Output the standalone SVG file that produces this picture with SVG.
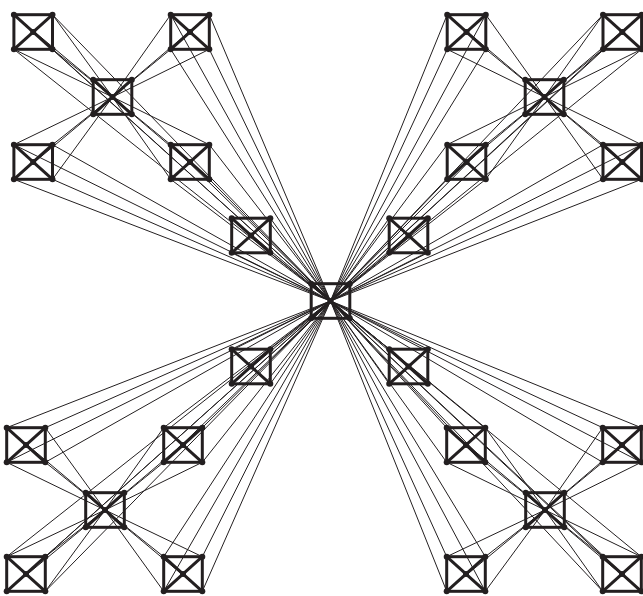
<svg xmlns="http://www.w3.org/2000/svg" xmlns:xlink="http://www.w3.org/1999/xlink" width="643" height="596" viewBox="0 0 643 596">
<style>
.e{stroke:#231f20;stroke-width:1;fill:none}
.u{stroke:#231f20;stroke-width:3;fill:none}
.d{fill:#231f20}
</style>
<defs>
<g id="unit">
<rect class="u" x="-19.3" y="-17.3" width="38.6" height="34.6"/>
<line class="u" x1="-19.3" y1="-17.3" x2="19.3" y2="17.3"/>
<line class="u" x1="19.3" y1="-17.3" x2="-19.3" y2="17.3"/>
<circle class="d" cx="-19.3" cy="-17.3" r="3"/>
<circle class="d" cx="19.3" cy="-17.3" r="3"/>
<circle class="d" cx="-19.3" cy="17.3" r="3"/>
<circle class="d" cx="19.3" cy="17.3" r="3"/>
<circle class="d" cx="0" cy="0" r="3"/>
</g>
</defs>
<rect width="643" height="596" fill="#ffffff"/>
<g id="connectors">
<!-- TL cluster hub -->
<line class="e" x1="112.5" y1="97" x2="13.9" y2="14.7"/><line class="e" x1="112.5" y1="97" x2="52.5" y2="14.7"/><line class="e" x1="112.5" y1="97" x2="13.9" y2="49.3"/><line class="e" x1="112.5" y1="97" x2="52.5" y2="49.3"/>
<line class="e" x1="112.5" y1="97" x2="170.7" y2="14.7"/><line class="e" x1="112.5" y1="97" x2="209.3" y2="14.7"/><line class="e" x1="112.5" y1="97" x2="170.7" y2="49.3"/><line class="e" x1="112.5" y1="97" x2="209.3" y2="49.3"/>
<line class="e" x1="112.5" y1="97" x2="13.9" y2="144.7"/><line class="e" x1="112.5" y1="97" x2="52.5" y2="144.7"/><line class="e" x1="112.5" y1="97" x2="13.9" y2="179.3"/><line class="e" x1="112.5" y1="97" x2="52.5" y2="179.3"/>
<line class="e" x1="112.5" y1="97" x2="170.7" y2="144.7"/><line class="e" x1="112.5" y1="97" x2="209.3" y2="144.7"/><line class="e" x1="112.5" y1="97" x2="170.7" y2="179.3"/><line class="e" x1="112.5" y1="97" x2="209.3" y2="179.3"/>
<!-- TR cluster hub -->
<line class="e" x1="544.5" y1="97" x2="447.2" y2="14.7"/><line class="e" x1="544.5" y1="97" x2="485.8" y2="14.7"/><line class="e" x1="544.5" y1="97" x2="447.2" y2="49.3"/><line class="e" x1="544.5" y1="97" x2="485.8" y2="49.3"/>
<line class="e" x1="544.5" y1="97" x2="603" y2="14.7"/><line class="e" x1="544.5" y1="97" x2="641.6" y2="14.7"/><line class="e" x1="544.5" y1="97" x2="603" y2="49.3"/><line class="e" x1="544.5" y1="97" x2="641.6" y2="49.3"/>
<line class="e" x1="544.5" y1="97" x2="447.2" y2="144.7"/><line class="e" x1="544.5" y1="97" x2="485.8" y2="144.7"/><line class="e" x1="544.5" y1="97" x2="447.2" y2="179.3"/><line class="e" x1="544.5" y1="97" x2="485.8" y2="179.3"/>
<line class="e" x1="544.5" y1="97" x2="603" y2="144.7"/><line class="e" x1="544.5" y1="97" x2="641.6" y2="144.7"/><line class="e" x1="544.5" y1="97" x2="603" y2="179.3"/><line class="e" x1="544.5" y1="97" x2="641.6" y2="179.3"/>
<!-- BL cluster hub -->
<line class="e" x1="105" y1="510" x2="6.7" y2="427.7"/><line class="e" x1="105" y1="510" x2="45.3" y2="427.7"/><line class="e" x1="105" y1="510" x2="6.7" y2="462.3"/><line class="e" x1="105" y1="510" x2="45.3" y2="462.3"/>
<line class="e" x1="105" y1="510" x2="163.7" y2="427.7"/><line class="e" x1="105" y1="510" x2="202.3" y2="427.7"/><line class="e" x1="105" y1="510" x2="163.7" y2="462.3"/><line class="e" x1="105" y1="510" x2="202.3" y2="462.3"/>
<line class="e" x1="105" y1="510" x2="6.7" y2="556.7"/><line class="e" x1="105" y1="510" x2="45.3" y2="556.7"/><line class="e" x1="105" y1="510" x2="6.7" y2="591.3"/><line class="e" x1="105" y1="510" x2="45.3" y2="591.3"/>
<line class="e" x1="105" y1="510" x2="163.7" y2="556.7"/><line class="e" x1="105" y1="510" x2="202.3" y2="556.7"/><line class="e" x1="105" y1="510" x2="163.7" y2="591.3"/><line class="e" x1="105" y1="510" x2="202.3" y2="591.3"/>
<!-- BR cluster hub -->
<line class="e" x1="545" y1="510" x2="446.7" y2="427.7"/><line class="e" x1="545" y1="510" x2="485.3" y2="427.7"/><line class="e" x1="545" y1="510" x2="446.7" y2="462.3"/><line class="e" x1="545" y1="510" x2="485.3" y2="462.3"/>
<line class="e" x1="545" y1="510" x2="602.7" y2="427.7"/><line class="e" x1="545" y1="510" x2="641.3" y2="427.7"/><line class="e" x1="545" y1="510" x2="602.7" y2="462.3"/><line class="e" x1="545" y1="510" x2="641.3" y2="462.3"/>
<line class="e" x1="545" y1="510" x2="446.7" y2="556.7"/><line class="e" x1="545" y1="510" x2="485.3" y2="556.7"/><line class="e" x1="545" y1="510" x2="446.7" y2="591.3"/><line class="e" x1="545" y1="510" x2="485.3" y2="591.3"/>
<line class="e" x1="545" y1="510" x2="602.7" y2="556.7"/><line class="e" x1="545" y1="510" x2="641.3" y2="556.7"/><line class="e" x1="545" y1="510" x2="602.7" y2="591.3"/><line class="e" x1="545" y1="510" x2="641.3" y2="591.3"/>
<!-- center cluster hub -->
<line class="e" x1="330.5" y1="301" x2="231.7" y2="218.2"/><line class="e" x1="330.5" y1="301" x2="270.3" y2="218.2"/><line class="e" x1="330.5" y1="301" x2="231.7" y2="252.8"/><line class="e" x1="330.5" y1="301" x2="270.3" y2="252.8"/>
<line class="e" x1="330.5" y1="301" x2="389.2" y2="218.2"/><line class="e" x1="330.5" y1="301" x2="427.8" y2="218.2"/><line class="e" x1="330.5" y1="301" x2="389.2" y2="252.8"/><line class="e" x1="330.5" y1="301" x2="427.8" y2="252.8"/>
<line class="e" x1="330.5" y1="301" x2="231.7" y2="349.2"/><line class="e" x1="330.5" y1="301" x2="270.3" y2="349.2"/><line class="e" x1="330.5" y1="301" x2="231.7" y2="383.8"/><line class="e" x1="330.5" y1="301" x2="270.3" y2="383.8"/>
<line class="e" x1="330.5" y1="301" x2="389.2" y2="349.2"/><line class="e" x1="330.5" y1="301" x2="427.8" y2="349.2"/><line class="e" x1="330.5" y1="301" x2="389.2" y2="383.8"/><line class="e" x1="330.5" y1="301" x2="427.8" y2="383.8"/>
<!-- global hub to TL cluster -->
<line class="e" x1="330.5" y1="301" x2="13.9" y2="14.7"/><line class="e" x1="330.5" y1="301" x2="52.5" y2="14.7"/><line class="e" x1="330.5" y1="301" x2="13.9" y2="49.3"/><line class="e" x1="330.5" y1="301" x2="52.5" y2="49.3"/>
<line class="e" x1="330.5" y1="301" x2="170.7" y2="14.7"/><line class="e" x1="330.5" y1="301" x2="209.3" y2="14.7"/><line class="e" x1="330.5" y1="301" x2="170.7" y2="49.3"/><line class="e" x1="330.5" y1="301" x2="209.3" y2="49.3"/>
<line class="e" x1="330.5" y1="301" x2="13.9" y2="144.7"/><line class="e" x1="330.5" y1="301" x2="52.5" y2="144.7"/><line class="e" x1="330.5" y1="301" x2="13.9" y2="179.3"/><line class="e" x1="330.5" y1="301" x2="52.5" y2="179.3"/>
<line class="e" x1="330.5" y1="301" x2="170.7" y2="144.7"/><line class="e" x1="330.5" y1="301" x2="209.3" y2="144.7"/><line class="e" x1="330.5" y1="301" x2="170.7" y2="179.3"/><line class="e" x1="330.5" y1="301" x2="209.3" y2="179.3"/>
<!-- global hub to TR cluster -->
<line class="e" x1="330.5" y1="301" x2="447.2" y2="14.7"/><line class="e" x1="330.5" y1="301" x2="485.8" y2="14.7"/><line class="e" x1="330.5" y1="301" x2="447.2" y2="49.3"/><line class="e" x1="330.5" y1="301" x2="485.8" y2="49.3"/>
<line class="e" x1="330.5" y1="301" x2="603" y2="14.7"/><line class="e" x1="330.5" y1="301" x2="641.6" y2="14.7"/><line class="e" x1="330.5" y1="301" x2="603" y2="49.3"/><line class="e" x1="330.5" y1="301" x2="641.6" y2="49.3"/>
<line class="e" x1="330.5" y1="301" x2="447.2" y2="144.7"/><line class="e" x1="330.5" y1="301" x2="485.8" y2="144.7"/><line class="e" x1="330.5" y1="301" x2="447.2" y2="179.3"/><line class="e" x1="330.5" y1="301" x2="485.8" y2="179.3"/>
<line class="e" x1="330.5" y1="301" x2="603" y2="144.7"/><line class="e" x1="330.5" y1="301" x2="641.6" y2="144.7"/><line class="e" x1="330.5" y1="301" x2="603" y2="179.3"/><line class="e" x1="330.5" y1="301" x2="641.6" y2="179.3"/>
<!-- global hub to BL cluster -->
<line class="e" x1="330.5" y1="301" x2="6.7" y2="427.7"/><line class="e" x1="330.5" y1="301" x2="45.3" y2="427.7"/><line class="e" x1="330.5" y1="301" x2="6.7" y2="462.3"/><line class="e" x1="330.5" y1="301" x2="45.3" y2="462.3"/>
<line class="e" x1="330.5" y1="301" x2="163.7" y2="427.7"/><line class="e" x1="330.5" y1="301" x2="202.3" y2="427.7"/><line class="e" x1="330.5" y1="301" x2="163.7" y2="462.3"/><line class="e" x1="330.5" y1="301" x2="202.3" y2="462.3"/>
<line class="e" x1="330.5" y1="301" x2="6.7" y2="556.7"/><line class="e" x1="330.5" y1="301" x2="45.3" y2="556.7"/><line class="e" x1="330.5" y1="301" x2="6.7" y2="591.3"/><line class="e" x1="330.5" y1="301" x2="45.3" y2="591.3"/>
<line class="e" x1="330.5" y1="301" x2="163.7" y2="556.7"/><line class="e" x1="330.5" y1="301" x2="202.3" y2="556.7"/><line class="e" x1="330.5" y1="301" x2="163.7" y2="591.3"/><line class="e" x1="330.5" y1="301" x2="202.3" y2="591.3"/>
<!-- global hub to BR cluster -->
<line class="e" x1="330.5" y1="301" x2="446.7" y2="427.7"/><line class="e" x1="330.5" y1="301" x2="485.3" y2="427.7"/><line class="e" x1="330.5" y1="301" x2="446.7" y2="462.3"/><line class="e" x1="330.5" y1="301" x2="485.3" y2="462.3"/>
<line class="e" x1="330.5" y1="301" x2="602.7" y2="427.7"/><line class="e" x1="330.5" y1="301" x2="641.3" y2="427.7"/><line class="e" x1="330.5" y1="301" x2="602.7" y2="462.3"/><line class="e" x1="330.5" y1="301" x2="641.3" y2="462.3"/>
<line class="e" x1="330.5" y1="301" x2="446.7" y2="556.7"/><line class="e" x1="330.5" y1="301" x2="485.3" y2="556.7"/><line class="e" x1="330.5" y1="301" x2="446.7" y2="591.3"/><line class="e" x1="330.5" y1="301" x2="485.3" y2="591.3"/>
<line class="e" x1="330.5" y1="301" x2="602.7" y2="556.7"/><line class="e" x1="330.5" y1="301" x2="641.3" y2="556.7"/><line class="e" x1="330.5" y1="301" x2="602.7" y2="591.3"/><line class="e" x1="330.5" y1="301" x2="641.3" y2="591.3"/>
</g>
<g id="tl-1" transform="translate(33.2,32)"><use xlink:href="#unit" href="#unit"/></g>
<g id="tl-2" transform="translate(190,32)"><use xlink:href="#unit" href="#unit"/></g>
<g id="tl-c" transform="translate(112.5,97)"><use xlink:href="#unit" href="#unit"/></g>
<g id="tl-3" transform="translate(33.2,162)"><use xlink:href="#unit" href="#unit"/></g>
<g id="tl-4" transform="translate(190,162)"><use xlink:href="#unit" href="#unit"/></g>
<g id="tr-1" transform="translate(466.5,32)"><use xlink:href="#unit" href="#unit"/></g>
<g id="tr-2" transform="translate(622.3,32)"><use xlink:href="#unit" href="#unit"/></g>
<g id="tr-c" transform="translate(544.5,97)"><use xlink:href="#unit" href="#unit"/></g>
<g id="tr-3" transform="translate(466.5,162)"><use xlink:href="#unit" href="#unit"/></g>
<g id="tr-4" transform="translate(622.3,162)"><use xlink:href="#unit" href="#unit"/></g>
<g id="bl-1" transform="translate(26,445)"><use xlink:href="#unit" href="#unit"/></g>
<g id="bl-2" transform="translate(183,445)"><use xlink:href="#unit" href="#unit"/></g>
<g id="bl-c" transform="translate(105,510)"><use xlink:href="#unit" href="#unit"/></g>
<g id="bl-3" transform="translate(26,574)"><use xlink:href="#unit" href="#unit"/></g>
<g id="bl-4" transform="translate(183,574)"><use xlink:href="#unit" href="#unit"/></g>
<g id="br-1" transform="translate(466,445)"><use xlink:href="#unit" href="#unit"/></g>
<g id="br-2" transform="translate(622,445)"><use xlink:href="#unit" href="#unit"/></g>
<g id="br-c" transform="translate(545,510)"><use xlink:href="#unit" href="#unit"/></g>
<g id="br-3" transform="translate(466,574)"><use xlink:href="#unit" href="#unit"/></g>
<g id="br-4" transform="translate(622,574)"><use xlink:href="#unit" href="#unit"/></g>
<g id="c-1" transform="translate(251,235.5)"><use xlink:href="#unit" href="#unit"/></g>
<g id="c-2" transform="translate(408.5,235.5)"><use xlink:href="#unit" href="#unit"/></g>
<g id="c-c" transform="translate(330.5,301)"><use xlink:href="#unit" href="#unit"/></g>
<g id="c-3" transform="translate(251,366.5)"><use xlink:href="#unit" href="#unit"/></g>
<g id="c-4" transform="translate(408.5,366.5)"><use xlink:href="#unit" href="#unit"/></g>
</svg>
